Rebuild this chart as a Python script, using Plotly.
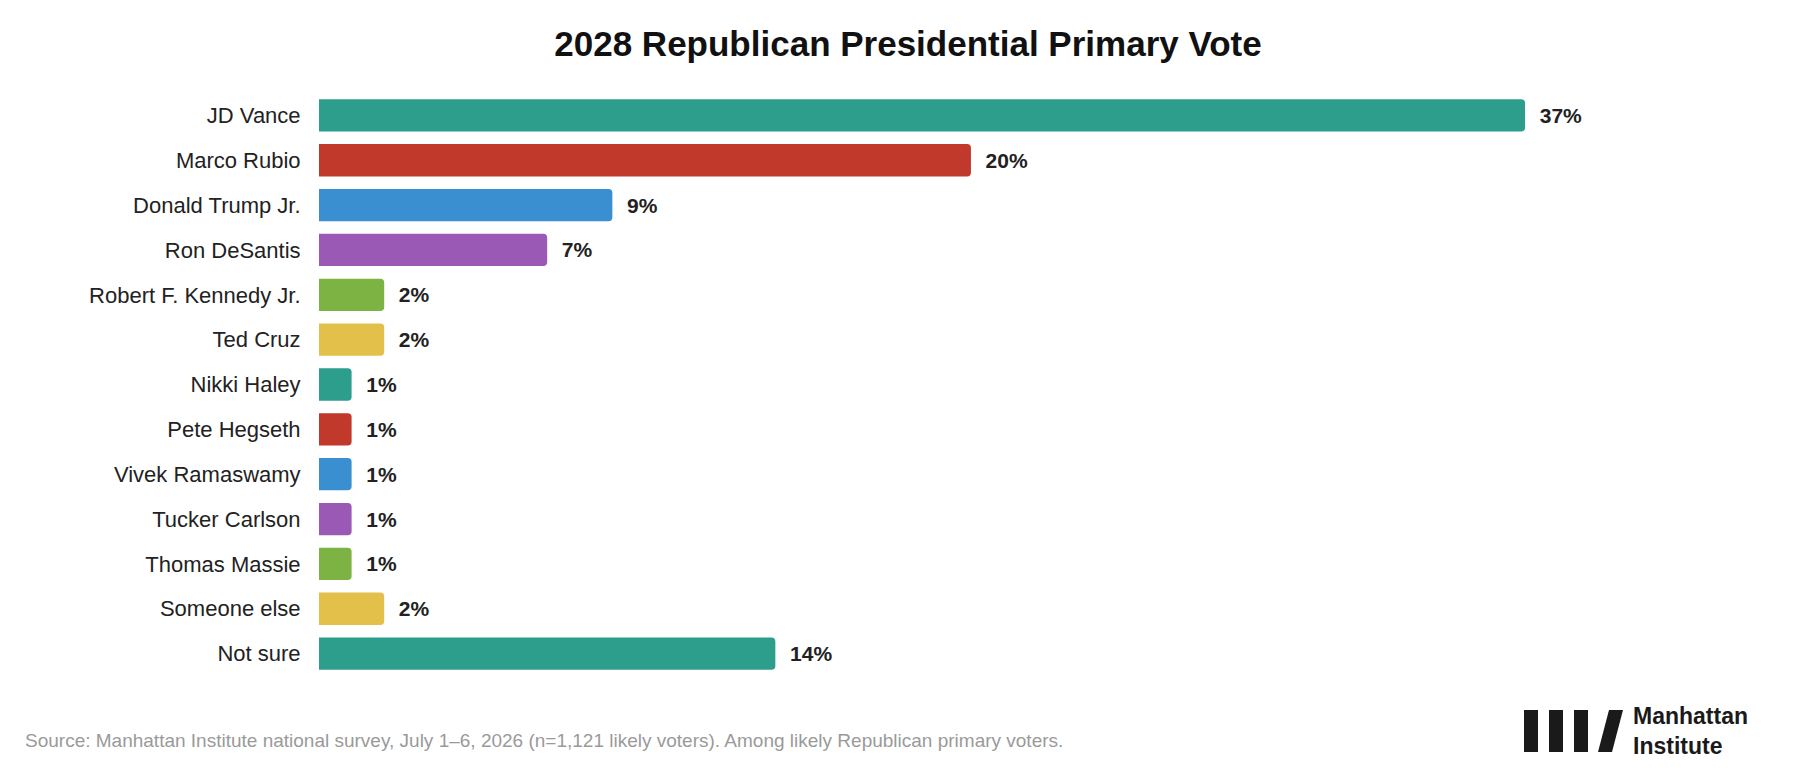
import plotly.graph_objects as go

candidates = ["JD Vance", "Marco Rubio", "Donald Trump Jr.", "Ron DeSantis", "Robert F. Kennedy Jr.",
              "Ted Cruz", "Nikki Haley", "Pete Hegseth", "Vivek Ramaswamy", "Tucker Carlson",
              "Thomas Massie", "Someone else", "Not sure"]
values = [37, 20, 9, 7, 2, 2, 1, 1, 1, 1, 1, 2, 14]
palette = ["#2e9e8c", "#c0392b", "#3a8fd0", "#9b59b6", "#7cb342", "#e3c04a"]
colors = [palette[i % 6] for i in range(len(candidates))]
colors[-1] = "#2e9e8c"

W, H = 1800, 774
L, T, B = 311, 85, 106
PW, PH = W - L, H - T - B
fig = go.Figure(go.Bar(
    x=values, y=candidates, orientation="h",
    marker=dict(color=colors, line=dict(width=0), cornerradius=4),
    text=[f"<b>  {v}%</b>" for v in values], textposition="outside",
    textfont=dict(size=21, color="#222", family="Liberation Sans, Arial"),
    cliponaxis=False,
))
fig.update_layout(
    width=W, height=H, plot_bgcolor="white", paper_bgcolor="white",
    margin=dict(l=L, r=0, t=T, b=B),
    bargap=0.28, showlegend=False,
    font=dict(family="Liberation Sans, Arial", color="#222"),
    title=dict(text="<b>2028 Republican Presidential Primary Vote</b>", x=0.5, xanchor="center",
               y=1 - 36 / H, yanchor="middle", font=dict(size=35, color="#111")),
    xaxis=dict(range=[0, 45.68], visible=False),
    yaxis=dict(autorange="reversed", showgrid=False, showline=False, ticks="outside",
               ticklen=13, tickcolor="white", tickfont=dict(size=22, color="#222")),
)
def px(x): return (x - L) / PW
def py(y): return (H - B - y) / PH
fig.add_annotation(text="Source: Manhattan Institute national survey, July 1–6, 2026 (n=1,121 likely voters). Among likely Republican primary voters.",
                   xref="paper", yref="paper", x=px(15), y=py(732), xanchor="left", yanchor="middle",
                   showarrow=False, font=dict(size=19, color="#9a9a9a"))
# logo
for x0 in [1516, 1541, 1566]:
    fig.add_shape(type="rect", xref="paper", yref="paper", x0=px(x0), x1=px(x0 + 14), y0=py(744), y1=py(702),
                  fillcolor="#1a1a1a", line=dict(width=0))
fig.add_shape(type="path", xref="paper", yref="paper",
              path=f"M {px(1590)} {py(744)} L {px(1604)} {py(744)} L {px(1615)} {py(702)} L {px(1601)} {py(702)} Z",
              fillcolor="#1a1a1a", line=dict(width=0))
fig.add_annotation(text="<b>Manhattan<br>Institute</b>", xref="paper", yref="paper", x=px(1623), y=py(723),
                   xanchor="left", yanchor="middle", align="left", showarrow=False,
                   font=dict(size=23, color="#1a1a1a"))
fig.write_html("out.html")
